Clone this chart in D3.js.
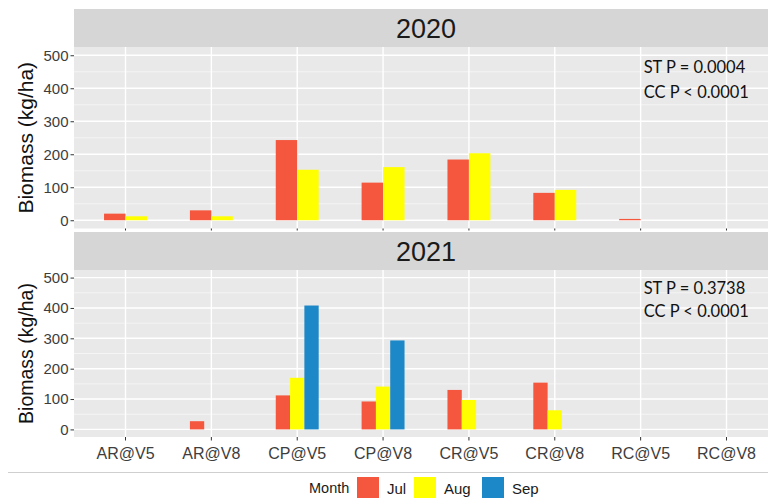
<!DOCTYPE html>
<html>
<head>
<meta charset="utf-8">
<script src="https://cdn.jsdelivr.net/npm/d3@7"></script>
<style>
  html, body { margin: 0; padding: 0; background: #fff; }
  svg { display: block; font-family: "Liberation Sans", Arial, sans-serif; }
</style>
</head>
<body>
<div id="container"></div>
<script>
const width = 768;
const height = 498;

// data
const categories = ["AR@V5", "AR@V8", "CP@V5", "CP@V8", "CR@V5", "CR@V8", "RC@V5", "RC@V8"];
const months = ["Jul", "Aug", "Sep"];
const monthColors = ["#f4573d", "#ffff00", "#1c88c7"];

const jul2020 = [20, 30, 243, 114, 184, 83, 4, 0];
const aug2020 = [12, 12, 153, 161, 203, 92, 0, 0];

const jul2021 = [0, 27, 112, 92, 130, 154, 0, 0];
const aug2021 = [0, 0, 170, 141, 97, 63, 0, 0];
const sep2021 = [0, 0, 408, 293, 0, 0, 0, 0];

const yTicks = [0, 100, 200, 300, 400, 500];
const yMinor = [50, 150, 250, 350, 450];
const stats2020 = ["ST P = 0.0004", "CC P < 0.0001"];
const stats2021 = ["ST P = 0.3738", "CC P < 0.0001"];

const panels = [
  { year: "2020", months: ["Jul", "Aug"], series: [jul2020, aug2020], stats: stats2020,
    stripTop: 9, top: 47, bottom: 228.5, titleSize: 21, showLabels: false },
  { year: "2021", months: ["Jul", "Aug", "Sep"], series: [jul2021, aug2021, sep2021], stats: stats2021,
    stripTop: 232, top: 270, bottom: 437, titleSize: 19.5, showLabels: true }
];

const panelLeft = 74;
const panelRight = 778;

let svg;

function prepareVis() {
  svg = d3.select("#container")
    .append("svg")
    .attr("width", width)
    .attr("height", height);
}

function drawPanel(p, x, color) {
  const y = d3.scaleLinear().domain([-25, 525]).range([p.bottom, p.top]);
  const mid = c => x(c) + x.bandwidth() / 2;
  const g = svg.append("g");

  // strip
  g.append("rect")
    .attr("x", panelLeft).attr("y", p.stripTop)
    .attr("width", panelRight - panelLeft).attr("height", p.top - p.stripTop)
    .attr("fill", "#d6d6d6");
  g.append("text")
    .attr("x", (panelLeft + panelRight) / 2)
    .attr("y", (p.stripTop + p.top) / 2)
    .attr("dy", "0.36em")
    .attr("text-anchor", "middle")
    .attr("font-size", 27)
    .attr("fill", "#1a1a1a")
    .text(p.year);

  // panel background
  g.append("rect")
    .attr("x", panelLeft).attr("y", p.top)
    .attr("width", panelRight - panelLeft).attr("height", p.bottom - p.top)
    .attr("fill", "#e9e9e9");

  // grid
  g.selectAll(".minor")
    .data(yMinor)
    .join("line")
    .attr("x1", panelLeft).attr("x2", panelRight)
    .attr("y1", d => y(d)).attr("y2", d => y(d))
    .attr("stroke", "#f7f7f7").attr("stroke-width", 0.8);
  g.selectAll(".major")
    .data(yTicks)
    .join("line")
    .attr("x1", panelLeft).attr("x2", panelRight)
    .attr("y1", d => y(d)).attr("y2", d => y(d))
    .attr("stroke", "#fff").attr("stroke-width", 1.4);
  g.selectAll(".vgrid")
    .data(categories)
    .join("line")
    .attr("x1", mid).attr("x2", mid)
    .attr("y1", p.top).attr("y2", p.bottom)
    .attr("stroke", "#fff").attr("stroke-width", 1.4);

  // bars (dodged within half the band)
  const sub = d3.scaleBand()
    .domain(p.months)
    .range([x.bandwidth() * 0.25, x.bandwidth() * 0.75]);

  p.months.forEach((m, i) => {
    g.selectAll(null)
      .data(categories.map((c, j) => ({ c, v: p.series[i][j] })).filter(d => d.v > 0))
      .join("rect")
      .attr("x", d => x(d.c) + sub(m))
      .attr("width", sub.bandwidth())
      .attr("y", d => y(d.v))
      .attr("height", d => y(0) - y(d.v))
      .attr("fill", color(m));
  });

  // y axis
  const yAxis = g.append("g")
    .attr("transform", `translate(${panelLeft},0)`)
    .call(d3.axisLeft(y).tickValues(yTicks).tickSize(3.5).tickPadding(2));
  yAxis.select(".domain").remove();
  yAxis.selectAll(".tick line").attr("stroke", "#333");
  yAxis.selectAll("text")
    .attr("font-size", 15)
    .attr("font-family", "Liberation Sans, Arial, sans-serif")
    .attr("fill", "#3d3d3d");

  // x axis
  const xAxis = g.append("g")
    .attr("transform", `translate(0,${p.bottom})`)
    .call(d3.axisBottom(x).tickSize(p.showLabels ? 3.5 : 2).tickPadding(7));
  xAxis.select(".domain").remove();
  xAxis.selectAll(".tick line").attr("stroke", "#333");
  xAxis.selectAll("text")
    .attr("font-size", 16)
    .attr("font-family", "Liberation Sans, Arial, sans-serif")
    .attr("fill", "#3d3d3d")
    .style("display", p.showLabels ? null : "none");

  // y title
  g.append("text")
    .attr("transform", `translate(33,${(y(0) + y(500)) / 2}) rotate(-90)`)
    .attr("text-anchor", "middle")
    .attr("font-size", p.titleSize)
    .attr("fill", "#111")
    .text("Biomass (kg/ha)");

  // stats annotation
  g.selectAll(".stat")
    .data(p.stats)
    .join("text")
    .attr("x", mid("RC@V5") + 3)
    .attr("y", (d, i) => y(i === 0 ? 465 : 388))
    .attr("dy", "0.35em")
    .attr("font-family", "Lato, 'Open Sans', sans-serif")
    .attr("font-size", 16.5)
    .attr("fill", "#111")
    .text(d => d);
}

function drawVis() {
  const x = d3.scaleBand()
    .domain(categories)
    .range([panelLeft, panelRight])
    .paddingInner(0)
    .paddingOuter(0.1);
  const color = d3.scaleOrdinal().domain(months).range(monthColors);

  panels.forEach(p => drawPanel(p, x, color));

  // separator above legend
  svg.append("line")
    .attr("x1", 8).attr("x2", width)
    .attr("y1", 472.5).attr("y2", 472.5)
    .attr("stroke", "#cfcfcf").attr("stroke-width", 1.2);

  // legend
  const legend = svg.append("g").attr("transform", "translate(309,477)");
  legend.append("text")
    .attr("x", 0).attr("y", 16)
    .attr("font-size", 14.5)
    .attr("fill", "#1a1a1a")
    .text("Month");
  const keyX = [48, 105, 173];
  const keys = legend.selectAll(".key")
    .data(months)
    .join("g")
    .attr("transform", (d, i) => `translate(${keyX[i]},0)`);
  keys.append("rect")
    .attr("width", 22).attr("height", 22)
    .attr("fill", d => color(d));
  keys.append("text")
    .attr("x", 30).attr("y", 17)
    .attr("font-size", 15)
    .attr("fill", "#1a1a1a")
    .text(d => d);
}

function runApp() {
  prepareVis();
  drawVis();
}

runApp();
</script>
</body>
</html>
